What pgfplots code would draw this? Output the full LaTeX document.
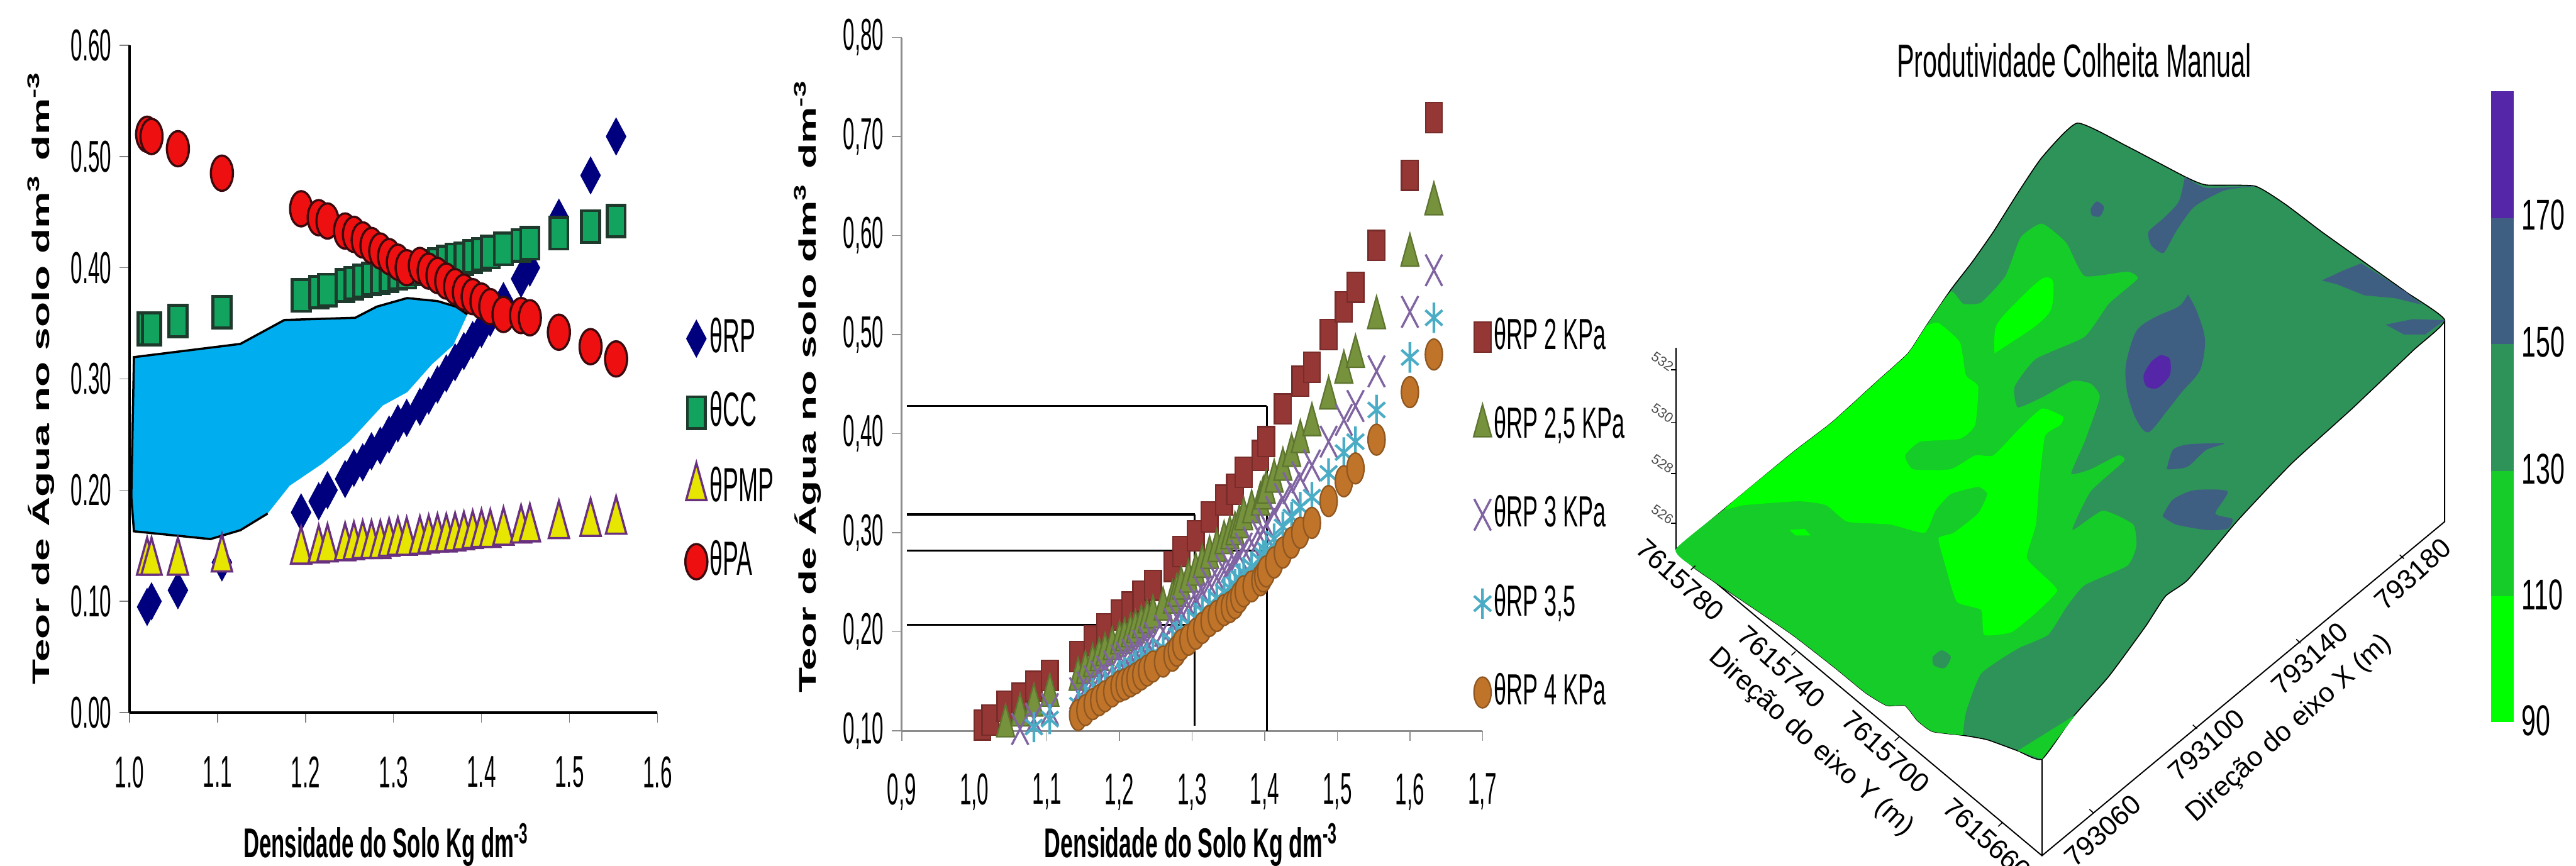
\documentclass[border=0pt]{standalone}
\usepackage{fontspec}
\setmainfont{Liberation Sans}
\usepackage{pgfplots}
\usepackage{graphicx}
\pgfplotsset{compat=1.18}
\definecolor{cRP}{HTML}{00007F}
\definecolor{cCC}{HTML}{12A45E}
\definecolor{cCCd}{HTML}{1E3A2C}
\definecolor{cY}{HTML}{E6E600}
\definecolor{cYd}{HTML}{6A3080}
\definecolor{cR}{HTML}{EE1010}
\definecolor{cRd}{HTML}{3A0A0E}
\definecolor{cArea}{HTML}{00AEEF}
\definecolor{a2}{HTML}{953735}
\definecolor{a25}{HTML}{76923C}
\definecolor{a3}{HTML}{8064A2}
\definecolor{a35}{HTML}{4BACC6}
\definecolor{a4}{HTML}{C0742A}
\definecolor{g0}{HTML}{00FF00}
\definecolor{g1}{HTML}{16CC28}
\definecolor{g2}{HTML}{2E9359}
\definecolor{g3}{HTML}{3F5F82}
\definecolor{g4}{HTML}{5526A8}
\newcommand{\tickfont}{\fontsize{9.1}{10}\selectfont}
\pgfplotsset{
 lg/.style={legend image code/.code={\draw[mark repeat=1,##1] plot coordinates {(0cm,0cm)};}},
 common/.style={scale only axis, axis x line=bottom, axis y line=left,
  axis line style={-}, tick align=outside, major tick length=2pt, clip=false,
  /pgf/number format/assume math mode=true,
  tick label style={font=\tickfont, xscale=0.47},
  xtick pos=lower, ytick pos=left, lg,
  legend cell align=left}
}
\begin{document}
\begin{tikzpicture}
\path[use as bounding box] (0,0) rectangle (526pt,176.75pt);
\clip (0,0) rectangle (526pt,176.75pt);
% ---------- panel 1 ----------
\begin{axis}[common, at={(26.45pt,31.25pt)}, anchor=south west, width=107.8pt, height=136.25pt,
 xmin=1.0, xmax=1.6, ymin=0, ymax=0.6, xtick={1.0,1.1,...,1.6}, ytick={0,0.1,...,0.6},
 x tick label style={/pgf/number format/fixed,/pgf/number format/fixed zerofill,/pgf/number format/precision=1},
 y tick label style={/pgf/number format/fixed,/pgf/number format/fixed zerofill,/pgf/number format/precision=2},
 xticklabel style={yshift=-3.4pt},
 legend style={draw=none, fill=none, at={(1.051,0.597)}, anchor=north west, row sep=5.5pt, inner sep=0pt,
   nodes={inner sep=0.5pt, font=\fontsize{9.8}{11}\selectfont}},
]
\addplot[only marks, mark=diamond*, mark size=2.5pt, mark options={fill=cRP,draw=cRP,yscale=1.4}] coordinates {
(1.02,.095)(1.025,.10)(1.055,.11)(1.105,.135)(1.195,.18)(1.215,.19)(1.225,.20)(1.245,.21)(1.255,.22)(1.265,.225)(1.275,.235)(1.285,.24)(1.295,.25)(1.305,.26)(1.315,.265)(1.33,.275)(1.34,.285)(1.35,.295)(1.36,.305)(1.37,.315)(1.38,.325)(1.39,.335)(1.40,.345)(1.41,.355)(1.425,.37)(1.445,.39)(1.455,.40)(1.488,.445)(1.524,.483)(1.553,.518)};
\addlegendentry{\scalebox{0.49}[1]{θRP}}
\addplot[only marks, mark=square*, mark size=1.85pt, mark options={fill=cCC,draw=cCCd,line width=.6pt,yscale=1.75}] coordinates {
(1.02,.345)(1.025,.345)(1.055,.352)(1.105,.36)(1.195,.375)(1.215,.378)(1.225,.38)(1.245,.384)(1.255,.386)(1.265,.388)(1.275,.39)(1.285,.391)(1.295,.393)(1.305,.395)(1.315,.396)(1.33,.399)(1.34,.401)(1.35,.403)(1.36,.405)(1.37,.407)(1.38,.408)(1.39,.41)(1.40,.412)(1.41,.414)(1.425,.417)(1.445,.42)(1.455,.422)(1.488,.431)(1.524,.437)(1.553,.442)};
\addlegendentry{\scalebox{0.49}[1]{θCC}}
\addplot[only marks, mark=triangle*, mark size=2.4pt, mark options={fill=cY,draw=cYd,line width=.45pt,yscale=2.1}] coordinates {
(1.02,.135)(1.025,.135)(1.055,.135)(1.105,.138)(1.195,.145)(1.215,.146)(1.225,.147)(1.245,.148)(1.255,.149)(1.265,.15)(1.275,.15)(1.285,.15)(1.295,.152)(1.305,.153)(1.315,.153)(1.33,.154)(1.34,.155)(1.35,.156)(1.36,.156)(1.37,.157)(1.38,.158)(1.39,.159)(1.40,.16)(1.41,.16)(1.425,.162)(1.445,.164)(1.455,.165)(1.488,.168)(1.524,.17)(1.553,.172)};
\addlegendentry{\scalebox{0.49}[1]{θPMP}}
\addplot[only marks, mark=*, mark size=2.25pt, mark options={fill=cR,draw=cRd,line width=.45pt,yscale=1.6}] coordinates {
(1.02,.52)(1.025,.518)(1.055,.507)(1.105,.485)(1.195,.453)(1.215,.445)(1.225,.442)(1.245,.433)(1.255,.43)(1.265,.425)(1.275,.42)(1.285,.415)(1.295,.41)(1.305,.405)(1.315,.40)(1.33,.402)(1.34,.397)(1.35,.393)(1.36,.388)(1.37,.383)(1.38,.378)(1.39,.374)(1.40,.37)(1.41,.365)(1.425,.358)(1.445,.357)(1.455,.355)(1.488,.342)(1.524,.329)(1.553,.318)};
\addlegendentry{\scalebox{0.49}[1]{θPA}}
\addplot[forget plot, fill=cArea, draw=none] coordinates {
(1.005,.3196)(1.126,.3315)(1.176,.353)(1.2565,.355)(1.281,.365)(1.3155,.3727)(1.35,.370)(1.371,.365)(1.384,.358)(1.368,.3305)(1.3435,.313)(1.3155,.288)(1.2876,.276)(1.250,.2437)(1.219,.2238)(1.182,.204)(1.157,.179)(1.126,.164)(1.092,.156)(1.005,.163)(1.002,.194)(1.005,.3196)};
\addplot[forget plot, black, line width=.45pt] coordinates {
(1.002,.194)(1.005,.3196)(1.126,.3315)(1.176,.353)(1.2565,.355)(1.281,.365)(1.3155,.3727)(1.35,.370)(1.371,.365)(1.384,.358)};
\addplot[forget plot, black, line width=.45pt] coordinates {(1.157,.179)(1.126,.164)(1.092,.156)(1.005,.163)(1.002,.194)};
\addplot[forget plot, white, line width=.9pt] coordinates {
(1.388,.356)(1.372,.3275)(1.3475,.31)(1.3195,.285)(1.2916,.273)(1.254,.2407)(1.223,.2208)(1.186,.201)(1.161,.176)};
\end{axis}
% ---------- panel 2 ----------
\begin{axis}[common, at={(184.125pt,27.5pt)}, anchor=south west, width=118.6pt, height=141.6pt,
 xmin=0.9, xmax=1.7, ymin=0.1, ymax=0.8, xtick={0.9,1.0,...,1.7}, ytick={0.1,0.2,...,0.8},
 axis line style={-,color=black!45}, tick style={color=black!45},
 x tick label style={/pgf/number format/fixed,/pgf/number format/fixed zerofill,/pgf/number format/precision=1,/pgf/number format/use comma},
 y tick label style={/pgf/number format/fixed,/pgf/number format/fixed zerofill,/pgf/number format/precision=2,/pgf/number format/use comma},
 xticklabel style={yshift=-3.2pt},
 legend style={draw=none, fill=none, at={(0.983,0.601)}, anchor=north west, row sep=9.2pt, inner sep=0pt,
   nodes={inner sep=0.5pt, font=\fontsize{8.9}{10}\selectfont}},
]
\addplot[only marks, mark=square*, mark size=1.7pt, mark options={fill=a2,draw=a2!80!black,line width=.3pt,yscale=1.8}] coordinates {
(1.011,.106)(1.022,.111)(1.043,.125)(1.063,.133)(1.082,.145)(1.104,.156)(1.143,.175)(1.163,.191)(1.18,.203)(1.2,.217)(1.215,.225)(1.23,.236)(1.246,.247)(1.273,.266)(1.285,.281)(1.305,.297)(1.324,.316)(1.344,.333)(1.359,.344)(1.371,.361)(1.394,.378)(1.402,.392)(1.425,.425)(1.449,.453)(1.465,.467)(1.488,.50)(1.509,.528)(1.525,.548)(1.554,.59)(1.60,.661)(1.633,.719)};
\addlegendentry{\scalebox{0.52}[1]{θRP 2 KPa}}
\addplot[only marks, mark=triangle*, mark size=2.1pt, mark options={fill=a25,draw=a25!80!black,line width=.3pt,yscale=2.1}] coordinates {
(1.043,.105)(1.063,.116)(1.082,.126)(1.104,.136)(1.143,.152)(1.153,.159)(1.163,.166)(1.172,.172)(1.18,.177)(1.19,.183)(1.2,.189)(1.207,.192)(1.215,.196)(1.222,.200)(1.23,.205)(1.238,.210)(1.246,.215)(1.26,.223)(1.273,.230)(1.279,.237)(1.285,.244)(1.295,.251)(1.305,.258)(1.314,.266)(1.324,.275)(1.334,.282)(1.344,.290)(1.352,.295)(1.359,.299)(1.365,.306)(1.371,.314)(1.382,.321)(1.394,.329)(1.398,.335)(1.402,.341)(1.413,.352)(1.425,.364)(1.437,.378)(1.449,.392)(1.465,.409)(1.488,.436)(1.509,.462)(1.525,.478)(1.554,.517)(1.60,.580)(1.633,.632)};
\addlegendentry{\scalebox{0.52}[1]{θRP 2,5 KPa}}
\addplot[only marks, mark=x, mark size=2.4pt, mark options={draw=a3,line width=.45pt,yscale=1.9}] coordinates {
(1.063,.102)(1.082,.112)(1.104,.122)(1.143,.138)(1.153,.144)(1.163,.150)(1.172,.155)(1.18,.160)(1.19,.165)(1.2,.171)(1.207,.174)(1.215,.177)(1.222,.181)(1.23,.186)(1.238,.190)(1.246,.194)(1.26,.201)(1.273,.208)(1.279,.214)(1.285,.221)(1.295,.227)(1.305,.234)(1.314,.241)(1.324,.249)(1.334,.255)(1.344,.262)(1.352,.266)(1.359,.271)(1.365,.277)(1.371,.284)(1.382,.290)(1.394,.297)(1.398,.303)(1.402,.309)(1.413,.321)(1.425,.334)(1.437,.345)(1.449,.356)(1.465,.368)(1.488,.392)(1.509,.414)(1.525,.428)(1.554,.463)(1.60,.523)(1.633,.565)};
\addlegendentry{\scalebox{0.52}[1]{θRP 3 KPa}}
\addplot[only marks, mark=asterisk, mark size=2pt, mark options={draw=a35,line width=.55pt,yscale=1.55}] coordinates {
(1.082,.104)(1.104,.112)(1.143,.126)(1.153,.132)(1.163,.138)(1.172,.142)(1.18,.146)(1.19,.151)(1.2,.156)(1.207,.159)(1.215,.162)(1.222,.166)(1.23,.170)(1.238,.174)(1.246,.178)(1.26,.184)(1.273,.190)(1.279,.196)(1.285,.202)(1.295,.208)(1.305,.214)(1.314,.221)(1.324,.228)(1.334,.234)(1.344,.240)(1.352,.244)(1.359,.248)(1.365,.254)(1.371,.260)(1.382,.266)(1.394,.272)(1.398,.277)(1.402,.282)(1.413,.294)(1.425,.306)(1.437,.316)(1.449,.326)(1.465,.336)(1.488,.360)(1.509,.381)(1.525,.392)(1.554,.424)(1.60,.477)(1.633,.517)};
\addlegendentry{\scalebox{0.52}[1]{θRP 3,5}}
\addplot[only marks, mark=*, mark size=1.75pt, mark options={fill=a4,draw=a4!75!black,line width=.3pt,yscale=1.8}] coordinates {
(1.143,.116)(1.153,.121)(1.163,.127)(1.172,.131)(1.18,.135)(1.19,.140)(1.2,.145)(1.207,.147)(1.215,.150)(1.222,.153)(1.23,.157)(1.238,.161)(1.246,.165)(1.26,.170)(1.273,.176)(1.279,.181)(1.285,.187)(1.295,.192)(1.305,.198)(1.314,.204)(1.324,.211)(1.334,.216)(1.344,.222)(1.352,.225)(1.359,.229)(1.365,.235)(1.371,.241)(1.382,.246)(1.394,.252)(1.398,.256)(1.402,.261)(1.413,.270)(1.425,.280)(1.437,.290)(1.449,.300)(1.465,.310)(1.488,.332)(1.509,.352)(1.525,.365)(1.554,.394)(1.60,.442)(1.633,.480)};
\addlegendentry{\scalebox{0.52}[1]{θRP 4 KPa}}
\addplot[forget plot, black, line width=.45pt] coordinates {(0.907,.428)(1.403,.428)};
\addplot[forget plot, black, line width=.45pt] coordinates {(0.907,.3185)(1.3035,.3185)};
\addplot[forget plot, black, line width=.45pt] coordinates {(0.907,.282)(1.403,.282)};
\addplot[forget plot, black, line width=.45pt] coordinates {(0.907,.207)(1.3035,.207)};
\addplot[forget plot, black, line width=.3pt] coordinates {(1.403,.428)(1.403,.1)};
\addplot[forget plot, black, line width=.3pt] coordinates {(1.3035,.3185)(1.3035,.105)};
\end{axis}
% ---------- panel 3 (surface, in picture units) ----------
\begin{axis}[at={(331.25pt,0pt)}, anchor=south west, scale only axis, width=194.75pt, height=176.75pt,
 xmin=0, xmax=1568, ymin=0, ymax=1568, y dir=reverse, hide axis, clip=false]
% box
\addplot[black, line width=.25pt] coordinates {(88,995)(88,630)};
\addplot[black, line width=.25pt] coordinates {(88,995)(690,1550)(1352,945)(1352,580)};
\addplot[black, line width=.25pt] coordinates {(690,1375)(690,1550)};
% surface
\addplot[fill=g2, draw=black, line width=.2pt, smooth, tension=.3] coordinates {
(88,995)(170,920)(280,820)(345,765)(420,690)(470,640)(500,590)(540,525)(575,475)(610,420)(650,350)(690,285)(748,223)(830,265)(925,320)(960,335)(1040,337)(1090,370)(1150,420)(1220,475)(1290,530)(1352,580)(1300,635)(1200,740)(1100,840)(1010,945)(930,1050)(893,1080)(860,1135)(800,1225)(740,1300)(690,1375)(650,1360)(600,1340)(560,1332)(510,1325)(485,1305)(465,1278)(435,1278)(400,1255)(350,1210)(280,1150)(200,1090)(120,1030)(88,995)};
% mid green
\addplot[fill=g1, draw=none, smooth, tension=.3] coordinates {
(560,1332)(565,1290)(590,1220)(650,1175)(700,1150)(730,1100)(760,1060)(830,1025)(845,990)(840,950)(790,925)(740,960)(770,890)(825,835)(815,825)(770,850)(738,858)(760,800)(785,720)(770,695)(740,690)(690,720)(650,738)(645,700)(680,650)(760,610)(800,550)(847,505)(830,492)(760,500)(730,440)(690,405)(655,430)(630,500)(590,548)(560,550)(540,528)(500,590)(470,640)(420,690)(345,765)(280,820)(170,920)(88,995)(120,1030)(200,1090)(280,1150)(350,1210)(400,1255)(435,1278)(465,1278)(485,1305)(510,1325)(560,1332)};
\addplot[fill=g1, draw=none] coordinates {(650,1360)(745,1295)(690,1375)(650,1360)};
% bright green
\addplot[fill=g0, draw=none, smooth, tension=.3] coordinates {
(500,590)(520,585)(555,620)(565,680)(585,700)(580,770)(555,795)(490,800)(465,825)(478,850)(540,850)(580,825)(610,825)(650,780)(690,740)(725,755)(720,770)(695,790)(685,880)(680,950)(665,1010)(690,1040)(715,1070)(680,1110)(640,1145)(595,1150)(590,1105)(550,1090)(530,1020)(520,975)(545,965)(585,930)(600,895)(585,882)(540,895)(515,925)(497,965)(440,950)(370,945)(335,915)(290,908)(200,915)(170,920)(280,820)(345,765)(420,690)(470,640)(500,590)};
\addplot[fill=g0, draw=none, smooth, tension=.5] coordinates {(612,640)(615,590)(650,545)(690,505)(708,510)(705,560)(680,590)(640,620)(612,640)};
\addplot[fill=g0, draw=none] coordinates {(275,960)(300,958)(310,970)(285,970)(275,960)};
\addplot[fill=g2, draw=none, smooth] coordinates {(510,1190)(525,1178)(540,1190)(530,1210)(512,1205)(510,1190)};
% blue
\addplot[fill=g3, draw=none, smooth, tension=.4] coordinates {(925,320)(960,340)(1040,337)(990,345)(940,375)(910,420)(890,458)(870,445)(865,420)(890,395)(915,365)(925,320)};
\addplot[fill=g3, draw=none, smooth] coordinates {(770,378)(780,365)(792,375)(785,392)(772,390)(770,378)};
\addplot[fill=g3, draw=none] coordinates {(1150,508)(1185,490)(1215,477)(1290,530)(1315,552)(1270,540)(1220,535)(1175,515)(1150,508)};
\addplot[fill=g3, draw=none] coordinates {(1255,588)(1300,578)(1352,580)(1320,606)(1285,606)(1255,588)};
\addplot[fill=g3, draw=none, smooth, tension=.5] coordinates {(930,533)(945,565)(958,615)(950,670)(920,710)(895,745)(865,783)(845,760)(830,710)(828,660)(845,600)(875,575)(915,555)(930,533)};
\addplot[fill=g4, draw=none, smooth, tension=.5] coordinates {(885,643)(900,650)(900,680)(880,703)(862,700)(857,680)(870,655)(885,643)};
\addplot[fill=g3, draw=none, smooth, tension=.4] coordinates {(895,850)(905,815)(930,805)(990,803)(960,815)(930,845)(905,850)(895,850)};
\addplot[fill=g3, draw=none, smooth, tension=.4] coordinates {(888,935)(905,905)(940,888)(995,890)(975,930)(1003,940)(995,958)(960,960)(910,950)(888,935)};
% small ticks
\addplot[black, line width=.2pt] coordinates {(120,1025)(113,1032)};
\addplot[black, line width=.2pt] coordinates {(285,1180)(278,1187)};
\addplot[black, line width=.2pt] coordinates {(455,1335)(448,1342)};
\addplot[black, line width=.2pt] coordinates {(625,1490)(618,1497)};
\addplot[black, line width=.2pt] coordinates {(775,1473)(768,1466)};
\addplot[black, line width=.2pt] coordinates {(945,1320)(938,1313)};
\addplot[black, line width=.2pt] coordinates {(1115,1165)(1108,1158)};
\addplot[black, line width=.2pt] coordinates {(1285,1012)(1278,1005)};
\addplot[black, line width=.2pt] coordinates {(88,670)(80,670)};
\addplot[black, line width=.2pt] coordinates {(88,765)(80,765)};
\addplot[black, line width=.2pt] coordinates {(88,858)(80,858)};
\addplot[black, line width=.2pt] coordinates {(88,948)(80,948)};
% colour bar
\addplot[fill=g0, draw=none] coordinates {(1428,1308)(1466,1308)(1466,1080)(1428,1080)};
\addplot[fill=g1, draw=none] coordinates {(1428,1080)(1466,1080)(1466,853)(1428,853)};
\addplot[fill=g2, draw=none] coordinates {(1428,853)(1466,853)(1466,623)(1428,623)};
\addplot[fill=g3, draw=none] coordinates {(1428,623)(1466,623)(1466,395)(1428,395)};
\addplot[fill=g4, draw=none] coordinates {(1428,395)(1466,395)(1466,165)(1428,165)};
% texts
\node[font=\fontsize{9.5}{11}\selectfont, xscale=.56] at (axis cs:743,110) {Produtividade Colheita Manual};
\foreach \v/\y in {170/390,150/620,130/850,110/1078,90/1305}{
 \edef\tmp{\noexpand\node[anchor=west, inner sep=0pt, font=\noexpand\fontsize{8.8}{10}\noexpand\selectfont, xscale=.6] at (axis cs:1478,\y) {\v};}\tmp}
\foreach \t/\xx/\yy in {7615780/95/1050,7615740/262/1208,7615700/433/1362,7615660/600/1520}{
 \edef\tmp{\noexpand\node[rotate=-42, font=\noexpand\fontsize{5.6}{7}\noexpand\selectfont] at (axis cs:\xx,\yy) {\t};}\tmp}
\foreach \t/\xx/\yy in {793060/790/1505,793100/960/1350,793140/1130/1193,793180/1300/1040}{
 \edef\tmp{\noexpand\node[rotate=42, font=\noexpand\fontsize{5.6}{7}\noexpand\selectfont] at (axis cs:\xx,\yy) {\t};}\tmp}
\node[rotate=-42, font=\fontsize{5.6}{7}\selectfont] at (axis cs:310,1345) {Direção do eixo Y (m)};
\node[rotate=42, font=\fontsize{5.6}{7}\selectfont] at (axis cs:1097,1320) {Direção do eixo X (m)};
\foreach \t/\yy in {532/655,530/748,528/840,526/932}{
 \edef\tmp{\noexpand\node[rotate=-35, font=\noexpand\fontsize{2.8}{3}\noexpand\selectfont, text=black!70] at (axis cs:66,\yy) {\t};}\tmp}
\end{axis}
% ---------- axis titles ----------
\begin{scope}[x=0.125pt,y=-0.125pt,shift={(0pt,176.75pt)}]
\node[rotate=90, xscale=1.72, font=\bfseries\fontsize{4.9}{6}\selectfont, inner sep=0pt] at (67,615) {Teor de Água no solo dm\textsuperscript{3} dm\textsuperscript{-3}};
\node[rotate=90, xscale=1.72, font=\bfseries\fontsize{4.9}{6}\selectfont, inner sep=0pt] at (1319,629) {Teor de Água no solo dm\textsuperscript{3} dm\textsuperscript{-3}};
\node[xscale=.525, font=\bfseries\fontsize{8.5}{9}\selectfont, inner sep=0pt] at (631,1380) {Densidade do Solo Kg dm\textsuperscript{-3}};
\node[xscale=.54, font=\bfseries\fontsize{8.5}{9}\selectfont, inner sep=0pt] at (1946,1380) {Densidade do Solo Kg dm\textsuperscript{-3}};
\end{scope}
\end{tikzpicture}
\end{document}
